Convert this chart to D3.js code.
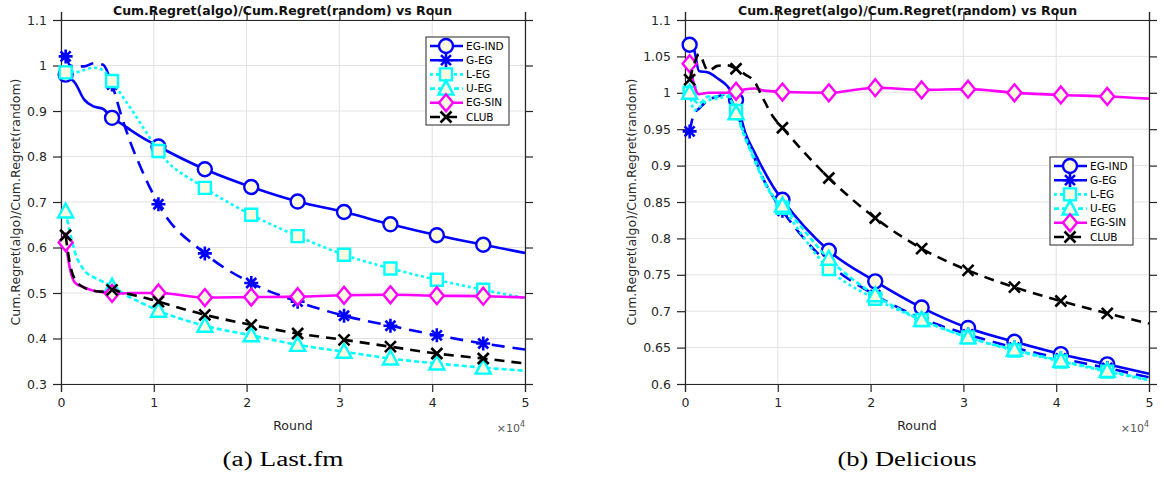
<!DOCTYPE html>
<html lang="en">
<head>
<meta charset="UTF-8">
<title>Cum.Regret ratio</title>
<script src="https://d3js.org/d3.v7.min.js"></script>
<style>
  body { margin: 0; background: #fff; }
  text { font-family: "DejaVu Sans", sans-serif; }
</style>
</head>
<body>
<svg id="chart" width="1163" height="478"></svg>
<script>
// rounds in units of 10^4
var rounds = [0.05, 0.1, 0.15, 0.25, 0.35, 0.45, 0.55, 0.65, 0.75, 0.85, 0.95, 1.05, 1.55, 2.05, 2.55, 3.05, 3.55, 4.05, 4.55, 5.0];
var markerRounds = [0.05, 0.55, 1.05, 1.55, 2.05, 2.55, 3.05, 3.55, 4.05, 4.55];
var algos = ["EG-IND", "G-EG", "L-EG", "U-EG", "EG-SIN", "CLUB"];

// (a) Last.fm
var lastfmEGIND = [0.98, 0.972, 0.962, 0.925, 0.91, 0.905, 0.885, 0.872, 0.858, 0.845, 0.833, 0.822, 0.772, 0.733, 0.701, 0.678, 0.651, 0.627, 0.606, 0.588];
var lastfmGEG   = [1.02, 1.0, 0.998, 0.998, 1.005, 1.002, 0.958, 0.89, 0.83, 0.78, 0.735, 0.695, 0.587, 0.522, 0.481, 0.45, 0.428, 0.407, 0.389, 0.376];
var lastfmLEG   = [0.985, 0.99, 0.985, 0.99, 0.995, 0.99, 0.966, 0.936, 0.906, 0.875, 0.843, 0.812, 0.731, 0.672, 0.625, 0.584, 0.554, 0.529, 0.507, 0.489];
var lastfmUEG   = [0.679, 0.63, 0.59, 0.55, 0.535, 0.525, 0.514, 0.502, 0.49, 0.48, 0.47, 0.461, 0.428, 0.407, 0.386, 0.371, 0.356, 0.345, 0.336, 0.329];
var lastfmEGSIN = [0.611, 0.55, 0.523, 0.512, 0.505, 0.502, 0.499, 0.499, 0.5, 0.5, 0.5, 0.5, 0.49, 0.491, 0.492, 0.495, 0.496, 0.494, 0.493, 0.49];
var lastfmCLUB  = [0.627, 0.56, 0.53, 0.512, 0.505, 0.503, 0.507, 0.502, 0.497, 0.492, 0.487, 0.481, 0.452, 0.43, 0.411, 0.397, 0.382, 0.367, 0.356, 0.345];

// (b) Delicious
var delEGIND = [1.066, 1.058, 1.03, 1.028, 1.02, 1.01, 0.99, 0.945, 0.918, 0.893, 0.871, 0.853, 0.783, 0.741, 0.705, 0.677, 0.658, 0.641, 0.627, 0.614];
var delGEG   = [0.947, 0.972, 0.978, 0.99, 0.995, 0.998, 0.975, 0.94, 0.91, 0.88, 0.857, 0.838, 0.765, 0.722, 0.69, 0.668, 0.65, 0.635, 0.622, 0.609];
var delLEG   = [1.0, 0.976, 0.98, 0.99, 0.992, 0.995, 0.975, 0.94, 0.91, 0.88, 0.858, 0.842, 0.758, 0.717, 0.688, 0.664, 0.646, 0.631, 0.617, 0.605];
var delUEG   = [1.0, 0.99, 0.985, 0.995, 0.995, 1.0, 0.972, 0.937, 0.907, 0.878, 0.857, 0.845, 0.772, 0.722, 0.688, 0.664, 0.647, 0.632, 0.618, 0.606];
var delEGSIN = [1.04, 1.01, 0.998, 1.0, 1.0, 1.0, 1.002, 1.005, 1.006, 1.003, 1.002, 1.001, 1.0, 1.007, 1.004, 1.005, 1.0, 0.997, 0.995, 0.992];
var delCLUB  = [1.018, 1.04, 1.053, 1.03, 1.037, 1.038, 1.033, 1.025, 1.015, 0.99, 0.967, 0.952, 0.883, 0.828, 0.786, 0.756, 0.733, 0.714, 0.697, 0.683];

var lastfmTicksY = [0.3, 0.4, 0.5, 0.6, 0.7, 0.8, 0.9, 1.0, 1.1];
var delTicksY = [0.6, 0.65, 0.7, 0.75, 0.8, 0.85, 0.9, 0.95, 1.0, 1.05, 1.1];
var ticksX = [0, 1, 2, 3, 4, 5];

var cream = "#fcfbe0";
var styles = {
    "EG-IND": { color: "#0000ff", dash: null, marker: "circle" },
    "G-EG":   { color: "#0000ff", dash: "13,8", marker: "star" },
    "L-EG":   { color: "#00ffff", dash: "3,3", marker: "square" },
    "U-EG":   { color: "#00ffff", dash: "5,3", marker: "triangle" },
    "EG-SIN": { color: "#ff00ff", dash: null, marker: "diamond" },
    "CLUB":   { color: "#000000", dash: "10,7", marker: "cross" }
};

var svg = d3.select("#chart");

function markerPath(type) {
    switch (type) {
        case "circle": return "M7,0A7,7 0 1,1 -7,0A7,7 0 1,1 7,0Z";
        case "square": return "M-6,-6H6V6H-6Z";
        case "triangle": return "M0,-8L7.5,6H-7.5Z";
        case "diamond": return "M0,-8.5L7,0L0,8.5L-7,0Z";
        case "star": return "M0,-7V7M-7,0H7M-5,-5L5,5M-5,5L5,-5";
        case "cross": return "M-5.5,-5.5L5.5,5.5M-5.5,5.5L5.5,-5.5";
    }
}

function drawMarker(g, type, color, x, y) {
    var open = (type === "star" || type === "cross");
    g.append("path")
        .attr("d", markerPath(type))
        .attr("transform", "translate(" + x + "," + y + ")")
        .attr("fill", open ? "none" : cream)
        .attr("stroke", color)
        .attr("stroke-width", open ? 2.6 : 2.4);
}

function drawPanel(p) {
    var x = d3.scaleLinear().domain([0, 5]).range([p.left, p.right]);
    var y = d3.scaleLinear().domain(p.yDomain).range([384, 20]);
    var g = svg.append("g");

    // grid
    g.selectAll(".gx").data(ticksX).enter().append("line")
        .attr("x1", d => x(d)).attr("x2", d => x(d))
        .attr("y1", 20).attr("y2", 384)
        .attr("stroke", "#e3e3e3").attr("stroke-width", 1);
    g.selectAll(".gy").data(p.ticksY).enter().append("line")
        .attr("x1", p.left).attr("x2", p.right)
        .attr("y1", d => y(d)).attr("y2", d => y(d))
        .attr("stroke", "#e3e3e3").attr("stroke-width", 1);

    // axes (box with outward ticks)
    var axisColor = "#262626";
    var axB = g.append("g").attr("transform", "translate(0,384)")
        .call(d3.axisBottom(x).tickValues(ticksX).tickSize(8).tickPadding(6).tickFormat(d3.format("d")));
    var axT = g.append("g").attr("transform", "translate(0,20)")
        .call(d3.axisTop(x).tickValues(ticksX).tickSize(8).tickFormat(""));
    var axL = g.append("g").attr("transform", "translate(" + p.left + ",0)")
        .call(d3.axisLeft(y).tickValues(p.ticksY).tickSize(8).tickPadding(6)
            .tickFormat(d => String(+d.toFixed(2))));
    var axR = g.append("g").attr("transform", "translate(" + p.right + ",0)")
        .call(d3.axisRight(y).tickValues(p.ticksY).tickSize(8).tickFormat(""));
    [axB, axT, axL, axR].forEach(function (a) {
        a.selectAll("path").attr("stroke", axisColor).attr("stroke-width", 1.2);
        a.selectAll("line").attr("stroke", axisColor).attr("stroke-width", 1.2);
        a.selectAll("text").attr("fill", axisColor).style("font-size", "12.5px")
            .style("font-family", "DejaVu Sans, sans-serif");
    });

    // series
    var line = d3.line()
        .x((d, i) => x(rounds[i]))
        .y(d => y(d))
        .curve(d3.curveMonotoneX);
    algos.forEach(function (name, k) {
        var st = styles[name];
        var vals = p.series[k];
        g.append("path")
            .attr("d", line(vals))
            .attr("fill", "none")
            .attr("stroke", st.color)
            .attr("stroke-width", 2.6)
            .attr("stroke-dasharray", st.dash);
        markerRounds.forEach(function (r) {
            var i = rounds.indexOf(r);
            drawMarker(g, st.marker, st.color, x(r), y(vals[i]));
        });
    });

    // title
    g.append("text")
        .attr("x", p.titleX).attr("y", 15)
        .style("font-size", "12.5px").style("font-weight", "bold")
        .attr("fill", "#111")
        .text("Cum.Regret(algo)/Cum.Regret(random) vs Roun");

    // axis labels
    g.append("text")
        .attr("transform", "translate(" + p.ylabelX + ",202) rotate(-90)")
        .attr("text-anchor", "middle")
        .attr("dy", "0.35em")
        .style("font-size", "12.5px").attr("fill", axisColor)
        .text("Cum.Regret(algo)/Cum.Regret(random)");
    g.append("text")
        .attr("x", (p.left + p.right) / 2).attr("y", 430)
        .attr("text-anchor", "middle")
        .style("font-size", "12.5px").attr("fill", axisColor)
        .text("Round");
    var exp = g.append("text")
        .attr("x", p.right).attr("y", 432)
        .attr("text-anchor", "end")
        .style("font-size", "11px").attr("fill", "#555");
    exp.append("tspan").text("\u00d710");
    exp.append("tspan").attr("dy", -5).style("font-size", "8px").text("4");

    // legend
    var lg = g.append("g");
    lg.append("rect")
        .attr("x", p.legX).attr("y", p.legY)
        .attr("width", 83).attr("height", 88)
        .attr("fill", "#fff").attr("stroke", axisColor).attr("stroke-width", 1);
    algos.forEach(function (name, k) {
        var st = styles[name];
        var ly = p.legY + 9 + k * 14.2;
        lg.append("line")
            .attr("x1", p.legX + 4).attr("x2", p.legX + 37)
            .attr("y1", ly).attr("y2", ly)
            .attr("stroke", st.color).attr("stroke-width", 2.6)
            .attr("stroke-dasharray", st.dash);
        drawMarker(lg, st.marker, st.color, p.legX + 20, ly);
        lg.append("text")
            .attr("x", p.legX + 40).attr("y", ly)
            .attr("dy", "0.35em")
            .style("font-size", "10.5px").attr("fill", "#000")
            .text(name);
    });

    // caption
    svg.append("text")
        .attr("x", p.capX - p.capW / 2).attr("y", 466)
        .attr("textLength", p.capW)
        .attr("lengthAdjust", "spacingAndGlyphs")
        .style("font-family", "Liberation Serif, serif")
        .style("font-size", "20px")
        .attr("fill", "#000")
        .text(p.caption);
}

drawPanel({
    left: 61, right: 525, yDomain: [0.3, 1.1], ticksY: lastfmTicksY,
    series: [lastfmEGIND, lastfmGEG, lastfmLEG, lastfmUEG, lastfmEGSIN, lastfmCLUB],
    titleX: 113, ylabelX: 16, legX: 426, legY: 37,
    caption: "(a) Last.fm", capX: 283, capW: 121
});
drawPanel({
    left: 685, right: 1149, yDomain: [0.6, 1.1], ticksY: delTicksY,
    series: [delEGIND, delGEG, delLEG, delUEG, delEGSIN, delCLUB],
    titleX: 738, ylabelX: 632, legX: 1050, legY: 157,
    caption: "(b) Delicious", capX: 907, capW: 139
});
</script>
</body>
</html>
